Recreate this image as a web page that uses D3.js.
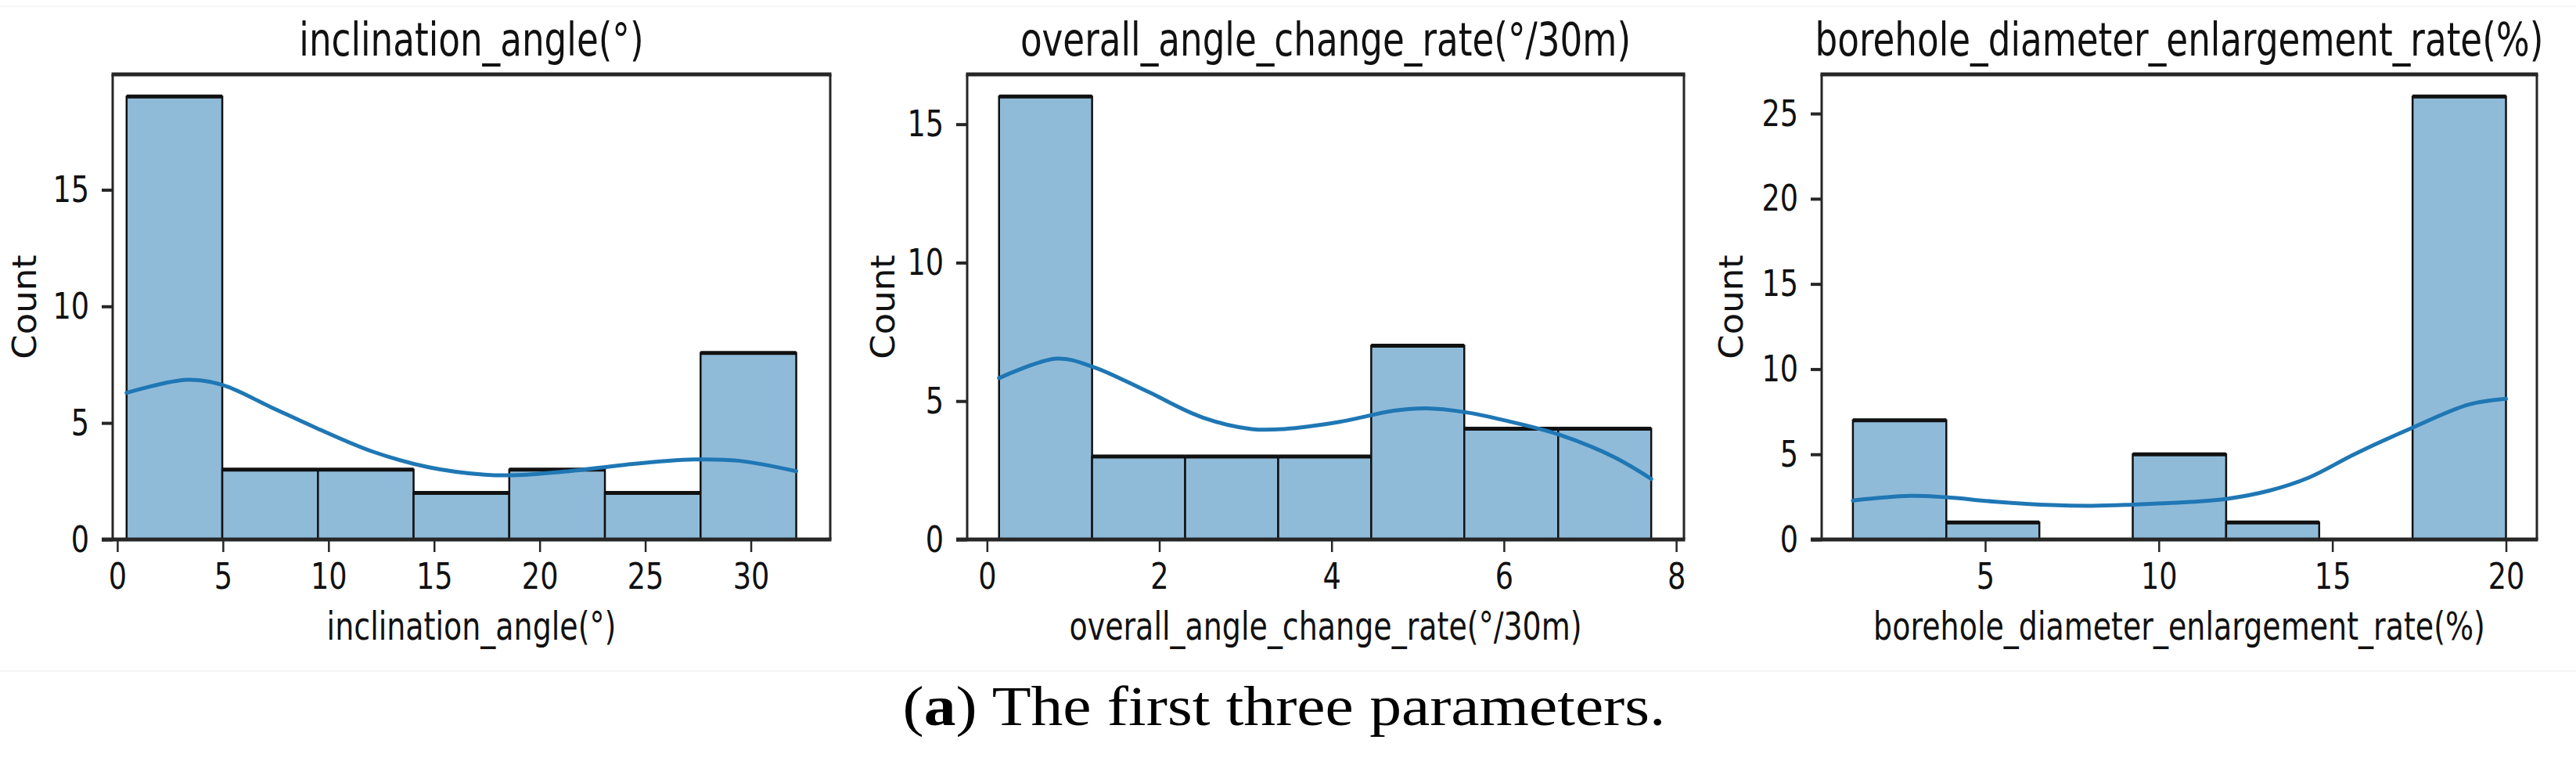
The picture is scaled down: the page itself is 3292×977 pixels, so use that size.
<!DOCTYPE html>
<html><head><meta charset="utf-8">
<script src="https://cdn.jsdelivr.net/npm/d3@7"></script>
<style>body{margin:0;background:#fff}</style>
</head><body>
<svg id="c" width="3292" height="977" xmlns="http://www.w3.org/2000/svg"></svg>
<script>
// ---------- data ----------
const titles = ["inclination_angle(°)", "overall_angle_change_rate(°/30m)", "borehole_diameter_enlargement_rate(%)"];
const yLabel = "Count";
const caption = ["(", "a", ") The first three parameters."];

const edges1 = [0.44, 4.97, 9.50, 14.03, 18.56, 23.09, 27.62, 32.15];
const counts1 = [19, 3, 3, 2, 3, 2, 8];
const edges2 = [0.14, 1.22, 2.30, 3.38, 4.46, 5.54, 6.63, 7.71];
const counts2 = [16, 3, 3, 3, 7, 4, 4];
const edges3 = [1.19, 3.88, 6.56, 9.25, 11.94, 14.62, 17.31, 20.00];
const counts3 = [7, 1, 0, 5, 1, 0, 26];

const kdeX1 = [0.44, 3.29, 5.0, 7.29, 9.43, 12.09, 14.75, 17.4, 19.0, 21.4, 24.1, 27.3, 29.4, 32.15];
const kdeY1 = [6.29, 6.85, 6.62, 5.67, 4.78, 3.77, 3.10, 2.78, 2.76, 2.93, 3.21, 3.43, 3.38, 2.93];
const kdeX2 = [0.14, 0.81, 1.22, 1.86, 2.50, 3.07, 3.45, 4.08, 4.72, 5.1, 5.55, 6.0, 6.63, 7.27, 7.71];
const kdeY2 = [5.83, 6.53, 6.25, 5.35, 4.41, 3.99, 3.99, 4.24, 4.65, 4.74, 4.60, 4.31, 3.80, 2.99, 2.19];
const kdeX3 = [1.19, 2.83, 3.87, 5.29, 6.94, 8.09, 9.24, 11.04, 11.94, 13.17, 14.32, 15.64, 17.28, 18.93, 20.0];
const kdeY3 = [2.29, 2.56, 2.48, 2.22, 2.02, 1.98, 2.05, 2.22, 2.38, 2.86, 3.63, 5.01, 6.54, 7.92, 8.26];

const xTicks1 = [0, 5, 10, 15, 20, 25, 30];
const xTicks2 = [0, 2, 4, 6, 8];
const xTicks3 = [5, 10, 15, 20];
const yTicks1 = [0, 5, 10, 15];
const yTicks2 = [0, 5, 10, 15];
const yTicks3 = [0, 5, 10, 15, 20, 25];

const xDomain1 = [-0.22, 33.76], yDomain1 = [0, 19.95];
const xDomain2 = [-0.23, 8.09],  yDomain2 = [0, 16.8];
const xDomain3 = [0.29, 20.89],  yDomain3 = [0, 27.3];

// ---------- layout ----------
const frames = [
  {left: 144, right: 1061, ylab: 31},
  {left: 1236, right: 2152, ylab: 1128},
  {left: 2328, right: 3242, ylab: 2212}
];
const TOP = 95, BOTTOM = 689;
const FILL = "#8fbbd9", EDGE = "#111", KDE = "#1f77b4", SPINE = "#262626";
const SANS = "DejaVu Sans";

const panels = [
  {edges: edges1, counts: counts1, kx: kdeX1, ky: kdeY1, xt: xTicks1, yt: yTicks1, xd: xDomain1, yd: yDomain1},
  {edges: edges2, counts: counts2, kx: kdeX2, ky: kdeY2, xt: xTicks2, yt: yTicks2, xd: xDomain2, yd: yDomain2},
  {edges: edges3, counts: counts3, kx: kdeX3, ky: kdeY3, xt: xTicks3, yt: yTicks3, xd: xDomain3, yd: yDomain3}
];

const svg = d3.select("#c");
svg.append("rect").attr("width", 3292).attr("height", 977).attr("fill", "#fff");
svg.append("line").attr("x1", 0).attr("x2", 3292).attr("y1", 8).attr("y2", 8).attr("stroke", "#f5f5f5").attr("stroke-width", 2);
svg.append("line").attr("x1", 0).attr("x2", 3292).attr("y1", 857).attr("y2", 857).attr("stroke", "#f3f3f3").attr("stroke-width", 2);

// horizontal squeeze by transform (keeps the anchor position)
function squeeze(sel, f) {
  sel.each(function() {
    const el = d3.select(this);
    const x = +(el.attr("x") || 0);
    const pre = el.attr("transform") || "";
    el.attr("x", x / f).attr("transform", (pre + ` scale(${f},1)`).trim());
  });
}

panels.forEach((p, i) => {
  const fr = frames[i];
  const x = d3.scaleLinear().domain(p.xd).range([fr.left, fr.right]);
  const y = d3.scaleLinear().domain(p.yd).range([BOTTOM, TOP]);
  const g = svg.append("g");

  const bins = p.counts.map((c, k) => ({x0: p.edges[k], x1: p.edges[k + 1], c}));
  const nz = bins.filter(b => b.c > 0);

  g.selectAll("rect.bar").data(nz).join("rect")
    .attr("x", b => x(b.x0)).attr("width", b => x(b.x1) - x(b.x0))
    .attr("y", b => y(b.c)).attr("height", b => y(0) - y(b.c))
    .attr("fill", FILL).attr("stroke", EDGE).attr("stroke-width", 2.5);
  g.selectAll("line.top").data(nz).join("line")
    .attr("x1", b => x(b.x0)).attr("x2", b => x(b.x1))
    .attr("y1", b => y(b.c)).attr("y2", b => y(b.c))
    .attr("stroke", EDGE).attr("stroke-width", 5);

  const pts = p.kx.map((v, k) => [v, p.ky[k]]);
  g.append("path").datum(pts)
    .attr("d", d3.line().x(d => x(d[0])).y(d => y(d[1])).curve(d3.curveCatmullRom.alpha(0.5)))
    .attr("fill", "none").attr("stroke", KDE).attr("stroke-width", 5).attr("stroke-linecap", "round");

  g.append("line").attr("x1", fr.left).attr("x2", fr.left).attr("y1", TOP).attr("y2", BOTTOM).attr("stroke", SPINE).attr("stroke-width", 3);
  g.append("line").attr("x1", fr.right).attr("x2", fr.right).attr("y1", TOP).attr("y2", BOTTOM).attr("stroke", SPINE).attr("stroke-width", 3);
  g.append("line").attr("x1", fr.left - 1.5).attr("x2", fr.right + 1.5).attr("y1", TOP).attr("y2", TOP).attr("stroke", SPINE).attr("stroke-width", 5);

  const xa = g.append("g").attr("transform", `translate(0,${BOTTOM})`)
    .call(d3.axisBottom(x).tickValues(p.xt).tickSize(16).tickPadding(14).tickFormat(d3.format("d")));
  xa.select(".domain").remove();
  xa.selectAll(".tick line").attr("stroke", SPINE).attr("stroke-width", 2.5);
  xa.selectAll(".tick text").attr("font-family", SANS).attr("font-size", 47).attr("fill", "#111");
  squeeze(xa.selectAll(".tick text"), 0.78);

  const ya = g.append("g").attr("transform", `translate(${fr.left},0)`)
    .call(d3.axisLeft(y).tickValues(p.yt).tickSize(14).tickPadding(16).tickFormat(d3.format("d")));
  ya.select(".domain").remove();
  ya.selectAll(".tick line").attr("stroke", SPINE).attr("stroke-width", 4);
  ya.selectAll(".tick text").attr("font-family", SANS).attr("font-size", 47).attr("fill", "#111");
  squeeze(ya.selectAll(".tick text"), 0.78);

  g.append("line").attr("x1", fr.left - 14).attr("x2", fr.right + 1.5).attr("y1", BOTTOM).attr("y2", BOTTOM).attr("stroke", SPINE).attr("stroke-width", 5);

  const cx = (fr.left + fr.right) / 2;
  const t = g.append("text").attr("x", cx).attr("y", 71).attr("text-anchor", "middle")
    .attr("font-family", SANS).attr("font-size", 58).attr("fill", "#111").text(titles[i]);
  squeeze(t, 0.78);
  const xl = g.append("text").attr("x", cx).attr("y", 817).attr("text-anchor", "middle")
    .attr("font-family", SANS).attr("font-size", 50).attr("fill", "#111").text(titles[i]);
  squeeze(xl, 0.76);
  const yl = g.append("text").attr("transform", `translate(${fr.ylab},${(TOP + BOTTOM) / 2}) rotate(-90)`)
    .attr("text-anchor", "middle").attr("dy", "0.36em")
    .attr("font-family", SANS).attr("font-size", 42).attr("fill", "#111").text(yLabel);
  squeeze(yl, 1.07);
});

const cap = svg.append("text").attr("x", 1641).attr("y", 926).attr("text-anchor", "middle")
  .attr("font-family", "Liberation Serif").attr("font-size", 72).attr("fill", "#000");
cap.append("tspan").text(caption[0]);
cap.append("tspan").attr("font-weight", "bold").text(caption[1]);
cap.append("tspan").text(caption[2]);
const cw = cap.node().getComputedTextLength();
squeeze(cap, 975 / cw);
</script>
</body></html>
